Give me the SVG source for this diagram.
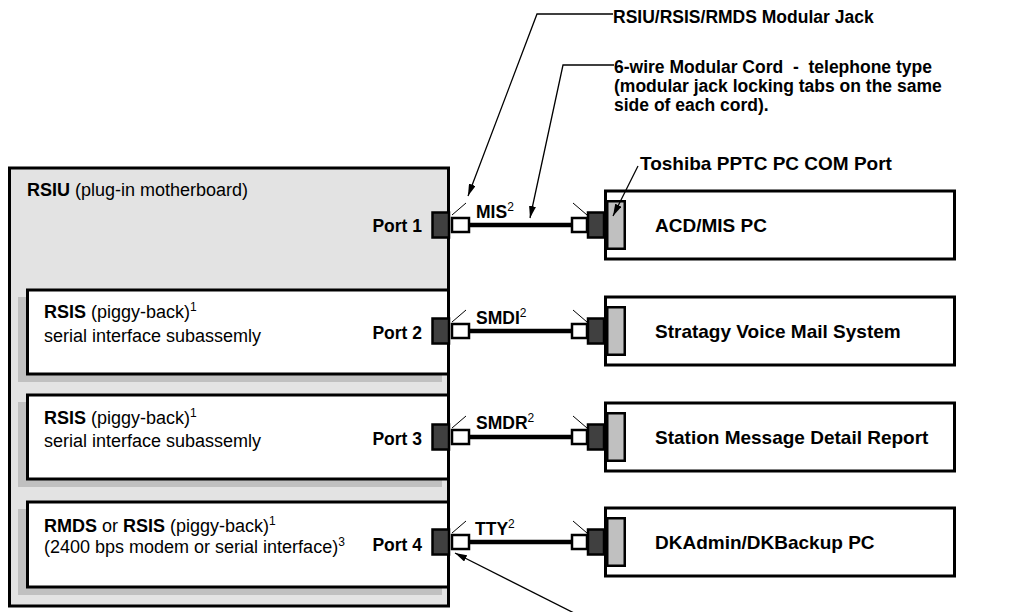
<svg xmlns="http://www.w3.org/2000/svg" width="1032" height="612" viewBox="0 0 1032 612">
<style>
text{font-family:"Liberation Sans",Arial,sans-serif;fill:#000}
.r{font-size:18px}
.b{font-weight:bold}
.lbl{font-size:17.5px;font-weight:bold}
.pc{font-size:19px;font-weight:bold}
.sup{font-size:12px;font-weight:normal}
.box{fill:#fff;stroke:#000;stroke-width:3}
.shadow{fill:#c0c0c0}
.dark{fill:#404040;stroke:#000;stroke-width:2.5}
.white{fill:#fff;stroke:#000;stroke-width:2.5}
.port{fill:#c0c0c0;stroke:#000;stroke-width:2.5}
.cord{stroke:#000;stroke-width:4.5}
.tab{stroke:#000;stroke-width:1}
.lead{fill:none;stroke:#000;stroke-width:1.3}
</style>
<defs>
<marker id="ah" viewBox="0 0 12 7" refX="12" refY="3.5" markerWidth="12" markerHeight="7" markerUnits="userSpaceOnUse" orient="auto">
<path d="M0,0 L12,3.5 L0,7 z" fill="#000"/>
</marker>
</defs>

<g id="rsiu">
<rect x="9.5" y="168" width="439" height="438" fill="#e3e3e3" stroke="#000" stroke-width="3"/>
<text x="27" y="196" class="r"><tspan class="b">RSIU</tspan> (plug-in motherboard)</text>
<text x="422" y="232" class="lbl" text-anchor="end">Port 1</text>
</g>

<g id="rsis1">
<rect x="18" y="297" width="424" height="85" class="shadow"/>
<rect x="27.5" y="290" width="421" height="84" class="box"/>
<text x="44" y="318" class="r"><tspan class="b">RSIS</tspan> (piggy-back)<tspan class="sup" dy="-7">1</tspan></text>
<text x="44" y="342" class="r">serial interface subassemly</text>
<text x="422" y="338.5" class="lbl" text-anchor="end">Port 2</text>
</g>

<g id="rsis2">
<rect x="18" y="402" width="424" height="85" class="shadow"/>
<rect x="27.5" y="395" width="421" height="84" class="box"/>
<text x="44" y="424" class="r"><tspan class="b">RSIS</tspan> (piggy-back)<tspan class="sup" dy="-7">1</tspan></text>
<text x="44" y="447" class="r">serial interface subassemly</text>
<text x="422" y="444.5" class="lbl" text-anchor="end">Port 3</text>
</g>

<g id="rmds">
<rect x="18" y="509" width="424" height="86" class="shadow"/>
<rect x="27.5" y="502" width="421" height="85" class="box"/>
<text x="44" y="532" class="r"><tspan class="b">RMDS</tspan> or <tspan class="b">RSIS</tspan> (piggy-back)<tspan class="sup" dy="-7">1</tspan></text>
<text x="44" y="553" class="r">(2400 bps modem or serial interface)<tspan class="sup" dy="-7">3</tspan></text>
<text x="422" y="550.5" class="lbl" text-anchor="end">Port 4</text>
</g>

<g id="pc1">
<rect x="605.5" y="191" width="349" height="68" class="box"/>
<rect x="607.25" y="201.25" width="17.5" height="47.5" class="port"/>
<text x="655" y="232" class="pc">ACD/MIS PC</text>
</g>
<g id="pc2">
<rect x="605.5" y="297" width="349" height="68" class="box"/>
<rect x="607.25" y="307.25" width="17.5" height="47.5" class="port"/>
<text x="655" y="338" class="pc">Stratagy Voice Mail System</text>
</g>
<g id="pc3">
<rect x="605.5" y="403" width="349" height="68" class="box"/>
<rect x="607.25" y="413.25" width="17.5" height="47.5" class="port"/>
<text x="655" y="444" class="pc">Station Message Detail Report</text>
</g>
<g id="pc4">
<rect x="605.5" y="508" width="349" height="68" class="box"/>
<rect x="607.25" y="518.25" width="17.5" height="47.5" class="port"/>
<text x="655" y="549" class="pc">DKAdmin/DKBackup PC</text>
</g>

<g id="connectors">
<line x1="470" y1="225" x2="572" y2="225" class="cord"/>
<rect x="432.5" y="212.5" width="16.5" height="25" class="dark"/>
<rect x="452" y="218" width="17" height="14" class="white"/>
<rect x="572" y="218" width="15" height="14" class="white"/>
<rect x="588" y="212.5" width="16" height="25" class="dark"/>
<line x1="452" y1="215" x2="466" y2="203" class="tab"/>
<line x1="573" y1="203" x2="587" y2="215" class="tab"/>
<text x="476" y="218" class="lbl">MIS<tspan class="sup" dy="-7">2</tspan></text>

<line x1="470" y1="331" x2="572" y2="331" class="cord"/>
<rect x="432.5" y="318.5" width="16.5" height="25" class="dark"/>
<rect x="452" y="324" width="17" height="14" class="white"/>
<rect x="572" y="324" width="15" height="14" class="white"/>
<rect x="588" y="318.5" width="16" height="25" class="dark"/>
<line x1="452" y1="322" x2="466" y2="310" class="tab"/>
<line x1="573" y1="310" x2="587" y2="322" class="tab"/>
<text x="476" y="324" class="lbl">SMDI<tspan class="sup" dy="-7">2</tspan></text>

<line x1="470" y1="437" x2="572" y2="437" class="cord"/>
<rect x="432.5" y="424.5" width="16.5" height="25" class="dark"/>
<rect x="452" y="430" width="17" height="14" class="white"/>
<rect x="572" y="430" width="15" height="14" class="white"/>
<rect x="588" y="424.5" width="16" height="25" class="dark"/>
<line x1="452" y1="428" x2="466" y2="416" class="tab"/>
<line x1="573" y1="416" x2="587" y2="428" class="tab"/>
<text x="476" y="429" class="lbl">SMDR<tspan class="sup" dy="-7">2</tspan></text>

<line x1="470" y1="542" x2="572" y2="542" class="cord"/>
<rect x="432.5" y="529.5" width="16.5" height="25" class="dark"/>
<rect x="452" y="535" width="17" height="14" class="white"/>
<rect x="572" y="535" width="15" height="14" class="white"/>
<rect x="588" y="529.5" width="16" height="25" class="dark"/>
<line x1="452" y1="533" x2="466" y2="521" class="tab"/>
<line x1="573" y1="521" x2="587" y2="533" class="tab"/>
<text x="475" y="535" class="lbl">TTY<tspan class="sup" dy="-7">2</tspan></text>

<polyline points="613,14 537,14 468,196" class="lead" marker-end="url(#ah)"/>
<polyline points="614,65 563,65 530,218" class="lead" marker-end="url(#ah)"/>
<line x1="638" y1="166" x2="613" y2="216" class="lead" marker-end="url(#ah)"/>
<line x1="576" y1="614" x2="455" y2="553" class="lead" marker-end="url(#ah)"/>
</g>

<g id="notes">
<text x="613" y="23" class="lbl">RSIU/RSIS/RMDS Modular Jack</text>
<text x="614" y="73" class="lbl" xml:space="preserve">6-wire Modular Cord  -  telephone type</text>
<text x="614" y="92" class="lbl">(modular jack locking tabs on the same</text>
<text x="614" y="111" class="lbl">side of each cord).</text>
<text x="640" y="170" class="pc">Toshiba PPTC PC COM Port</text>
</g>
</svg>
